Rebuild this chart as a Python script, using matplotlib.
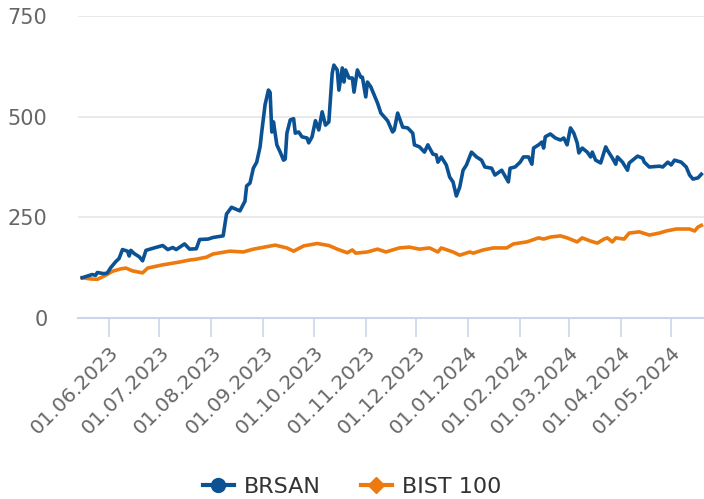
import numpy as np
import matplotlib
matplotlib.use("Agg")
from matplotlib import pyplot as plt
import matplotlib.dates as mdates
from matplotlib.lines import Line2D

# DATI (base 100)
brsan_dates = ["2023-05-16", "2023-05-19", "2023-05-22", "2023-05-24", "2023-05-25", "2023-05-29",
               "2023-05-31", "2023-06-02", "2023-06-05", "2023-06-07", "2023-06-09", "2023-06-12",
               "2023-06-13", "2023-06-14", "2023-06-16", "2023-06-19", "2023-06-21", "2023-06-23",
               "2023-06-27", "2023-07-03", "2023-07-06", "2023-07-09", "2023-07-11", "2023-07-16",
               "2023-07-19", "2023-07-23", "2023-07-25", "2023-07-30", "2023-08-02", "2023-08-05",
               "2023-08-08", "2023-08-10", "2023-08-13", "2023-08-18", "2023-08-21", "2023-08-22",
               "2023-08-24", "2023-08-26", "2023-08-28", "2023-08-30", "2023-08-31", "2023-09-02",
               "2023-09-04", "2023-09-05", "2023-09-06", "2023-09-07", "2023-09-09", "2023-09-11",
               "2023-09-13", "2023-09-14", "2023-09-15", "2023-09-17", "2023-09-19", "2023-09-20",
               "2023-09-22", "2023-09-24", "2023-09-27", "2023-09-28", "2023-09-30", "2023-10-02",
               "2023-10-04", "2023-10-06", "2023-10-08", "2023-10-10", "2023-10-12", "2023-10-13",
               "2023-10-15", "2023-10-16", "2023-10-18", "2023-10-19", "2023-10-20", "2023-10-22",
               "2023-10-24", "2023-10-25", "2023-10-27", "2023-10-29", "2023-10-30", "2023-11-01",
               "2023-11-02", "2023-11-04", "2023-11-08", "2023-11-10", "2023-11-14", "2023-11-17",
               "2023-11-18", "2023-11-20", "2023-11-23", "2023-11-26", "2023-11-29", "2023-11-30",
               "2023-12-03", "2023-12-06", "2023-12-08", "2023-12-11", "2023-12-13", "2023-12-14",
               "2023-12-16", "2023-12-19", "2023-12-21", "2023-12-23", "2023-12-25", "2023-12-27",
               "2023-12-29", "2023-12-31", "2024-01-03", "2024-01-06", "2024-01-09", "2024-01-11",
               "2024-01-15", "2024-01-17", "2024-01-21", "2024-01-25", "2024-01-26", "2024-01-29",
               "2024-02-01", "2024-02-03", "2024-02-06", "2024-02-08", "2024-02-09", "2024-02-12",
               "2024-02-14", "2024-02-15", "2024-02-16", "2024-02-19", "2024-02-22", "2024-02-25",
               "2024-02-27", "2024-02-29", "2024-03-02", "2024-03-04", "2024-03-06", "2024-03-07",
               "2024-03-09", "2024-03-12", "2024-03-14", "2024-03-15", "2024-03-17", "2024-03-20",
               "2024-03-23", "2024-03-24", "2024-03-27", "2024-03-29", "2024-03-30", "2024-04-02",
               "2024-04-05", "2024-04-06", "2024-04-11", "2024-04-14", "2024-04-15", "2024-04-18",
               "2024-04-24", "2024-04-26", "2024-04-29", "2024-05-01", "2024-05-03", "2024-05-07",
               "2024-05-10", "2024-05-12", "2024-05-14", "2024-05-17", "2024-05-19"]
brsan_values = [100, 104, 108, 106, 113, 110,
                112, 125, 140, 148, 170, 166,
                154, 168, 160, 152, 142, 168,
                173, 180, 170, 175, 170, 184,
                171, 172, 195, 196, 200, 202,
                204, 258, 275, 266, 290, 328,
                335, 372, 387, 425, 462, 530,
                566, 560, 462, 487, 430, 412,
                392, 395, 459, 492, 495, 459,
                462, 450, 447, 435, 450, 490,
                467, 512, 479, 487, 608, 628,
                616, 566, 621, 586, 616, 596,
                596, 561, 616, 598, 598, 549,
                586, 574, 534, 509, 490, 462,
                467, 509, 474, 472, 459, 430,
                425, 412, 430, 407, 405, 387,
                400, 380, 350, 338, 303, 325,
                367, 380, 412, 400, 392, 375,
                372, 355, 367, 338, 372, 375,
                387, 400, 400, 382, 422, 430,
                437, 422, 450, 457, 447, 442,
                447, 430, 472, 459, 435, 410,
                422, 412, 400, 412, 392, 385,
                425, 417, 397, 382, 400, 387,
                367, 385, 402, 397, 387, 375,
                377, 375, 387, 380, 392, 387,
                375, 355, 345, 348, 357]

bist_dates = ["2023-05-16", "2023-05-21", "2023-05-25", "2023-05-30", "2023-06-03", "2023-06-08",
              "2023-06-11", "2023-06-15", "2023-06-21", "2023-06-24", "2023-07-03", "2023-07-13",
              "2023-07-19", "2023-07-23", "2023-07-29", "2023-08-02", "2023-08-12", "2023-08-20",
              "2023-08-26", "2023-08-30", "2023-09-08", "2023-09-15", "2023-09-19", "2023-09-25",
              "2023-10-03", "2023-10-10", "2023-10-15", "2023-10-21", "2023-10-24", "2023-10-26",
              "2023-11-02", "2023-11-08", "2023-11-13", "2023-11-21", "2023-11-27", "2023-12-03",
              "2023-12-09", "2023-12-14", "2023-12-16", "2023-12-23", "2023-12-27", "2024-01-02",
              "2024-01-04", "2024-01-10", "2024-01-16", "2024-01-24", "2024-01-28", "2024-02-05",
              "2024-02-12", "2024-02-15", "2024-02-19", "2024-02-25", "2024-02-29", "2024-03-06",
              "2024-03-09", "2024-03-14", "2024-03-18", "2024-03-22", "2024-03-24", "2024-03-27",
              "2024-03-29", "2024-04-03", "2024-04-06", "2024-04-12", "2024-04-18", "2024-04-24",
              "2024-04-28", "2024-05-04", "2024-05-12", "2024-05-15", "2024-05-17", "2024-05-19"]
bist_values = [100, 97, 96, 106, 116, 122,
               124, 117, 112, 124, 132, 139,
               144, 146, 151, 159, 166, 164,
               171, 174, 181, 174, 166, 179,
               185, 180, 171, 162, 169, 161,
               164, 171, 164, 174, 176, 171,
               174, 164, 174, 164, 156, 164,
               161, 169, 174, 174, 184, 189,
               199, 196, 201, 204, 199, 189,
               199, 191, 186, 196, 199, 189,
               199, 196, 211, 214, 206, 211,
               216, 221, 221, 216, 226, 230]

month_ticks = ["2023-06-01", "2023-07-01", "2023-08-01", "2023-09-01", "2023-10-01", "2023-11-01",
               "2023-12-01", "2024-01-01", "2024-02-01", "2024-03-01", "2024-04-01", "2024-05-01"]
y_ticks = [0, 250, 500, 750]

blue = "#0b5294"
orange = "#ec7a0d"
grey_text = "#666666"
axis_col = "#ccd6eb"

# FIGURA
fig = plt.figure(figsize=(7.04, 4.99), dpi=100)
ax = fig.add_axes([78 / 704, 1 - 318 / 499, 626 / 704, 302 / 499])

ax.plot(np.array(brsan_dates, dtype="datetime64[D]"), brsan_values, color=blue, lw=2.6,
        solid_joinstyle="round", zorder=3)
ax.plot(np.array(bist_dates, dtype="datetime64[D]"), bist_values, color=orange, lw=2.6,
        solid_joinstyle="round", zorder=2)

ax.set_xlim(np.datetime64("2023-05-13T12:00"), np.datetime64("2024-05-20T14:00"))
ax.set_ylim(0, 750)

# assi e griglia
ax.set_yticks(y_ticks)
ax.tick_params(axis="y", length=0, pad=22, labelsize=15, labelcolor=grey_text)
for v in y_ticks[1:]:
    ax.axhline(v, color="#e6e6e6", lw=1.2, zorder=0)
for s in ["left", "right", "top"]:
    ax.spines[s].set_visible(False)
ax.spines["bottom"].set_color(axis_col)
ax.spines["bottom"].set_linewidth(1.5)

ax.set_xticks(np.array(month_ticks, dtype="datetime64[D]"))
ax.xaxis.set_major_formatter(mdates.DateFormatter("%d.%m.%Y"))
ax.tick_params(axis="x", length=14, width=1.2, color=axis_col, labelsize=14.5,
               labelcolor=grey_text, pad=4)
for lab in ax.get_xticklabels():
    lab.set_rotation(45)
    lab.set_ha("right")
    lab.set_va("top")
    lab.set_rotation_mode("anchor")

# legenda
handles = [Line2D([], [], color=blue, lw=3, marker="o", ms=10),
           Line2D([], [], color=orange, lw=3, marker="D", ms=8)]
fig.legend(handles, ["BRSAN", "BIST 100"], loc="center", bbox_to_anchor=(0.5, 1 - 487 / 499),
           ncol=2, frameon=False, fontsize=16, handlelength=1.4, columnspacing=1.8,
           handletextpad=0.45, labelcolor="#333333")

fig.savefig("out.png", dpi=100)
